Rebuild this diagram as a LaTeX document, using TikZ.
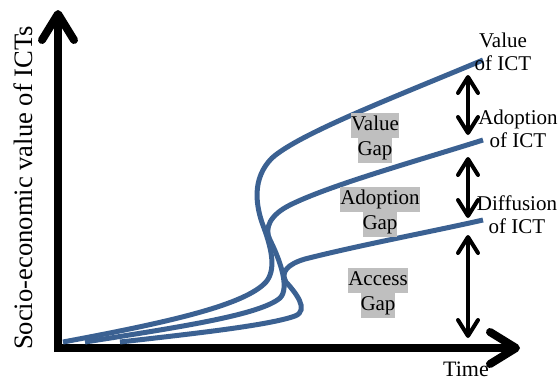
\documentclass[tikz,border=0pt]{standalone}
\usepackage{fontspec}
\setmainfont{Liberation Serif}
\usepackage{xcolor}
\usetikzlibrary{arrows.meta}

\definecolor{curveblue}{HTML}{3B6192}
\definecolor{gapgray}{HTML}{BFBFBF}
\setlength{\fboxsep}{0pt}
\newcommand{\gapline}[1]{\colorbox{gapgray}{\strut #1}}

\begin{document}
\begin{tikzpicture}[
  x=0.5pt, y=-0.5pt,
  font=\fontsize{10.5}{11.5}\selectfont,
  axis/.style={line width=4pt, -{Straight Barb[length=13pt,width=16pt,round]}},
  curve/.style={draw=curveblue, line width=2.5pt},
  gaparr/.style={line width=2pt, {Straight Barb[length=8pt,width=10pt,round]}-{Straight Barb[length=8pt,width=10pt,round]}},
  lbl/.style={align=center, inner sep=0pt},
  gaplbl/.style={align=center, inner sep=0pt, font=\fontsize{10.5}{12.5}\selectfont}
]
  \useasboundingbox (0,0) rectangle (558,381);

  \coordinate (yfoot) at (58,352);
  \coordinate (ytip) at (58,10);
  \coordinate (xfoot) at (54,348);
  \coordinate (xtip) at (520,348);
  \draw[axis] (yfoot) -- (ytip);
  \draw[axis] (xfoot) -- (xtip);

  \node[rotate=90, inner sep=0pt, font=\fontsize{13.3}{16}\selectfont] (ylbl) at (23,188) {Socio-economic value of ICTs};
  \node[lbl, font=\fontsize{11}{13}\selectfont] (timelbl) at (466,369) {Time};

  \draw[curve] (63,342) .. controls (170,322) and (245,305) .. (266,282)
    .. controls (276,270) and (272,250) .. (264,228)
    .. controls (255,205) and (252,178) .. (272,158)
    .. controls (300,133) and (400,95) .. (483,60);
  \draw[curve] (85,342) .. controls (180,327) and (260,315) .. (280,298)
    .. controls (290,288) and (280,260) .. (270,240)
    .. controls (264,228) and (270,215) .. (290,205)
    .. controls (330,185) and (420,160) .. (483,140);
  \draw[curve] (120,342) .. controls (200,333) and (270,325) .. (295,316)
    .. controls (310,310) and (295,292) .. (286,282)
    .. controls (280,272) and (288,264) .. (305,259)
    .. controls (360,245) and (430,232) .. (483,220);

  \node[lbl] (valuelbl) at (503,52) {Value\\of ICT};
  \node[lbl] (adoptlbl) at (518,129) {Adoption\\of ICT};
  \node[lbl] (difflbl) at (517,215) {Diffusion\\of ICT};

  \coordinate (valtop) at (468,75);
  \coordinate (valbot) at (468,135);
  \coordinate (adotop) at (468,157);
  \coordinate (adobot) at (468,218);
  \coordinate (acctop) at (468,235);
  \coordinate (accbot) at (468,338);
  \draw[gaparr] (valtop) -- (valbot);
  \draw[gaparr] (adotop) -- (adobot);
  \draw[gaparr] (acctop) -- (accbot);

  \node[gaplbl] (valuegap) at (375,138) {\gapline{Value}\\\gapline{Gap}};
  \node[gaplbl] (adoptgap) at (380,212) {\gapline{Adoption}\\\gapline{Gap}};
  \node[gaplbl] (accessgap) at (378,293) {\gapline{Access}\\\gapline{Gap}};
\end{tikzpicture}
\end{document}
